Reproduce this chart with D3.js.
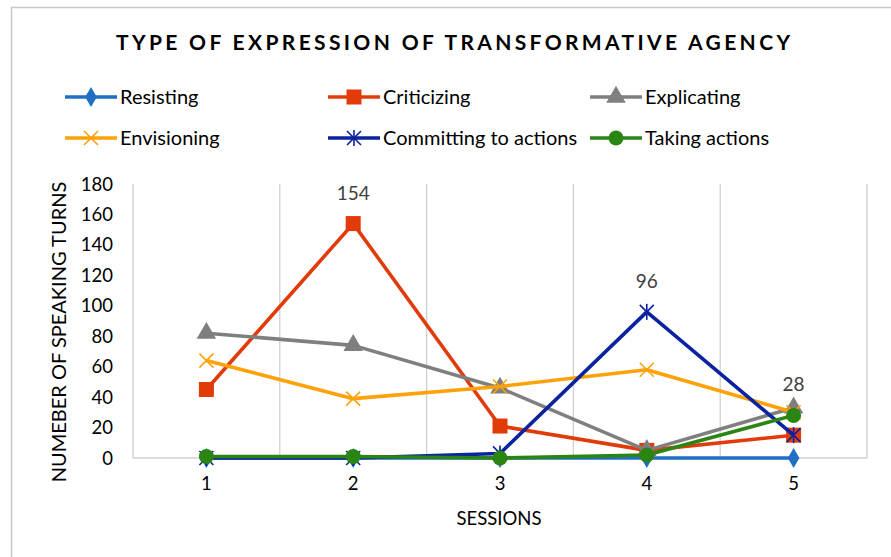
<!DOCTYPE html>
<html>
<head>
<meta charset="utf-8">
<script src="https://cdn.jsdelivr.net/npm/d3@7"></script>
<style>
  body { margin: 0; background: #fff; }
  svg { font-family: Lato, "Open Sans", sans-serif; }
</style>
</head>
<body>
<script>
// chart values
var sessions = ["1", "2", "3", "4", "5"];
var seriesNames = ["Resisting", "Criticizing", "Explicating", "Envisioning", "Committing to actions", "Taking actions"];
var resisting   = [0, 0, 0, 0, 0];
var criticizing = [45, 154, 21, 5, 15];
var explicating = [82, 74, 46, 5, 33];
var envisioning = [64, 39, 47, 58, 30];
var committing  = [0, 0, 3, 96, 15];
var taking      = [1, 1, 0, 2, 28];
var yTicks = [0, 20, 40, 60, 80, 100, 120, 140, 160, 180];

var colors = ["#1f6fc4", "#e23b0a", "#7f7f7f", "#ffa20a", "#0b239e", "#2a8512"];
var symbols = ["diamond", "square", "triangle", "x", "star", "circle"];
var allValues = [resisting, criticizing, explicating, envisioning, committing, taking];
// data labels shown in the picture: [series index, session index]
var labels = [[1, 1], [4, 3], [5, 4]];

var w = 891, h = 557;
var svg = d3.select("body").append("svg").attr("width", w).attr("height", h);

// chart frame
svg.append("rect").attr("x", 11.5).attr("y", 7.5).attr("width", w).attr("height", h)
  .attr("fill", "none").attr("stroke", "#c8c8c8").attr("stroke-width", 1.5);

var x = d3.scaleBand().domain(sessions).range([133, 867]);
var y = d3.scaleLinear().domain([0, 180]).range([458, 184]);

// title, stretched with letter-spacing to the reference width
var title = svg.append("text").attr("x", 116).attr("y", 50)
  .attr("font-size", "21px").attr("font-weight", "bold")
  .attr("fill", "#000").text("TYPE OF EXPRESSION OF TRANSFORMATIVE AGENCY");
var tw = title.node().getComputedTextLength();
var tn = title.text().length;
title.attr("letter-spacing", ((674 - tw) / (tn - 1)) + "px");

// vertical gridlines at band edges
var edges = sessions.map(function(d) { return x(d); }).concat([x.range()[1]]);
svg.selectAll("line.grid").data(edges).enter().append("line")
  .attr("class", "grid")
  .attr("x1", function(d) { return d; }).attr("x2", function(d) { return d; })
  .attr("y1", y(180)).attr("y2", y(0))
  .attr("stroke", "#d0d0d0").attr("stroke-width", 1.3);

// bottom axis line
svg.append("line").attr("x1", 133).attr("x2", 867).attr("y1", y(0)).attr("y2", y(0))
  .attr("stroke", "#d0d0d0").attr("stroke-width", 1.3);

// y tick labels
svg.selectAll("text.ytick").data(yTicks).enter().append("text")
  .attr("class", "ytick")
  .attr("x", 113).attr("y", function(d) { return y(d) + 6.5; })
  .attr("text-anchor", "end").attr("font-size", "18.5px").attr("fill", "#000")
  .text(function(d) { return d; });

// x tick labels
svg.selectAll("text.xtick").data(sessions).enter().append("text")
  .attr("class", "xtick")
  .attr("x", function(d) { return x(d) + x.bandwidth() / 2; }).attr("y", 490)
  .attr("text-anchor", "middle").attr("font-size", "18.5px").attr("fill", "#000")
  .text(function(d) { return d; });

// axis titles
svg.append("text").attr("x", 499).attr("y", 525).attr("text-anchor", "middle")
  .attr("font-size", "18.5px").attr("fill", "#000").text("SESSIONS");
svg.append("text").attr("transform", "translate(66,332) rotate(-90)")
  .attr("text-anchor", "middle").attr("font-size", "20px").attr("fill", "#000")
  .text("NUMEBER OF SPEAKING TURNS");

function marker(g, type, color, size) {
  if (type == "diamond") {
    g.append("path").attr("d", d3.symbol(d3.symbolDiamond, size * 9)()).attr("fill", color);
  } else if (type == "square") {
    g.append("rect").attr("x", -size / 2).attr("y", -size / 2)
      .attr("width", size).attr("height", size).attr("fill", color);
  } else if (type == "triangle") {
    g.append("path").attr("d", d3.symbol(d3.symbolTriangle, size * 11)()).attr("fill", color);
  } else if (type == "circle") {
    g.append("circle").attr("r", size / 2).attr("fill", color);
  } else {
    var s = size / 2;
    g.append("path").attr("d", "M" + (-s) + "," + (-s) + "L" + s + "," + s + "M" + (-s) + "," + s + "L" + s + "," + (-s))
      .attr("stroke", color).attr("stroke-width", 1.6).attr("fill", "none");
    if (type == "star") {
      g.append("path").attr("d", "M0," + (-s - 1) + "L0," + (s + 1))
        .attr("stroke", color).attr("stroke-width", 1.6);
    }
  }
}

var line = d3.line()
  .x(function(d, i) { return x(sessions[i]) + x.bandwidth() / 2; })
  .y(function(d) { return y(d); });

var markerSizes = [13, 15, 15, 14, 14, 15];

allValues.forEach(function(vals, k) {
  svg.append("path").datum(vals).attr("d", line)
    .attr("fill", "none").attr("stroke", colors[k]).attr("stroke-width", 3.6)
    .attr("stroke-linejoin", "round");
  vals.forEach(function(v, i) {
    var g = svg.append("g").attr("transform", "translate(" + (x(sessions[i]) + x.bandwidth() / 2) + "," + y(v) + ")");
    marker(g, symbols[k], colors[k], markerSizes[k]);
  });
});

// data labels
svg.selectAll("text.dlabel").data(labels).enter().append("text")
  .attr("class", "dlabel")
  .attr("x", function(d) { return x(sessions[d[1]]) + x.bandwidth() / 2; })
  .attr("y", function(d) { return y(allValues[d[0]][d[1]]) - 24; })
  .attr("text-anchor", "middle").attr("font-size", "19px").attr("fill", "#404040")
  .text(function(d) { return allValues[d[0]][d[1]]; });

// legend
var legX = [65, 328, 590];
var legY = [97, 138];
seriesNames.forEach(function(name, k) {
  var lx = legX[k % 3], ly = legY[Math.floor(k / 3)];
  svg.append("line").attr("x1", lx).attr("x2", lx + 52).attr("y1", ly).attr("y2", ly)
    .attr("stroke", colors[k]).attr("stroke-width", 3.6);
  var g = svg.append("g").attr("transform", "translate(" + (lx + 26) + "," + ly + ")");
  marker(g, symbols[k], colors[k], markerSizes[k]);
  svg.append("text").attr("x", lx + 55).attr("y", ly + 7).attr("font-size", "20px")
    .attr("fill", "#000").text(name);
});
</script>
</body>
</html>
